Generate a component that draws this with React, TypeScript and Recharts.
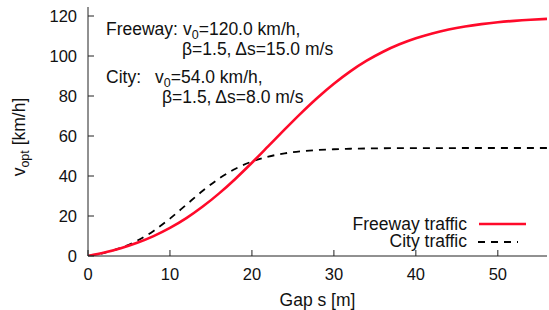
import React from "react";
import { LineChart, Line, XAxis, YAxis } from "recharts";

const gaps = [0, 2, 4, 6, 8, 10, 12, 14, 16, 18, 20, 22, 24, 26, 28, 30, 32, 34, 36, 38, 40, 42, 44, 46, 48, 50, 52, 54, 56];
const freeway = [0, 1.71, 3.88, 6.59, 9.95, 14.04, 18.94, 24.71, 31.31, 38.66, 46.61, 54.92, 63.29, 71.45, 79.13, 86.12, 92.31, 97.64, 102.13, 105.84, 108.86, 111.29, 113.22, 114.74, 115.93, 116.86, 117.58, 118.14, 118.57];
const city = [0, 1.61, 4.07, 7.65, 12.56, 18.71, 25.66, 32.6, 38.75, 43.66, 47.24, 49.7, 51.31, 52.34, 52.98, 53.38, 53.62, 53.77, 53.86, 53.92, 53.95, 53.97, 53.98, 53.99, 53.99, 54.0, 54.0, 54.0, 54.0];
const xTicks = [0, 10, 20, 30, 40, 50];
const yTicks = [0, 20, 40, 60, 80, 100, 120];
const seriesNames = ["Freeway traffic", "City traffic"];

const data = gaps.map((s, i) => ({ s, freeway: freeway[i], city: city[i] }));

const FONT = "'Liberation Sans', Arial, Helvetica, sans-serif";
const RED = "#ff0a2a";
const AXIS = "#222";

export default function App() {
  const tickStyle = { fontSize: 16.5, fill: "#111", fontFamily: FONT };
  return (
    <div style={{ position: "absolute", left: 0, top: 0, width: 549, height: 310, background: "#fff" }}>
      <LineChart width={549} height={310} data={data} margin={{ top: 7, right: 2, bottom: 0, left: 0 }}>
        <XAxis
          dataKey="s"
          type="number"
          domain={[0, 56]}
          ticks={xTicks}
          height={54}
          tickSize={-6}
          tickMargin={18}
          tick={tickStyle}
          stroke={AXIS}
          allowDataOverflow
        />
        <XAxis
          xAxisId="top"
          orientation="top"
          dataKey="s"
          type="number"
          domain={[0, 56]}
          ticks={xTicks}
          height={0}
          tickSize={-6}
          tick={false}
          stroke={AXIS}
          allowDataOverflow
        />
        <YAxis
          type="number"
          domain={[0, 124.5]}
          ticks={yTicks}
          width={88}
          tickSize={-6}
          tickMargin={17}
          tick={tickStyle}
          stroke={AXIS}
          allowDataOverflow
        />
        <YAxis
          yAxisId="right"
          orientation="right"
          type="number"
          domain={[0, 124.5]}
          ticks={yTicks}
          width={0}
          tickSize={-6}
          tick={false}
          stroke={AXIS}
          allowDataOverflow
        />
        <Line
          type="monotone"
          dataKey="city"
          name={seriesNames[1]}
          stroke="#000"
          strokeWidth={1.8}
          strokeDasharray="7 6"
          dot={false}
          isAnimationActive={false}
        />
        <Line
          type="monotone"
          dataKey="freeway"
          name={seriesNames[0]}
          stroke={RED}
          strokeWidth={2.6}
          dot={false}
          isAnimationActive={false}
        />
      </LineChart>
      <svg
        width={549}
        height={310}
        style={{ position: "absolute", left: 0, top: 0, pointerEvents: "none" }}
        fontFamily={FONT}
        fill="#111"
      >
        <text x={106} y={35} fontSize={17.5}>
          Freeway:
        </text>
        <text x={183} y={35} fontSize={17.5}>
          v<tspan dy={4} fontSize={12.5}>0</tspan>
          <tspan dy={-4}>=120.0 km/h,</tspan>
        </text>
        <text x={182} y={55} fontSize={17.5}>
          β=1.5, Δs=15.0 m/s
        </text>
        <text x={106} y={83} fontSize={17.5}>
          City:
        </text>
        <text x={155} y={83} fontSize={17.5}>
          v<tspan dy={4} fontSize={12.5}>0</tspan>
          <tspan dy={-4}>=54.0 km/h,</tspan>
        </text>
        <text x={162} y={103} fontSize={17.5}>
          β=1.5, Δs=8.0 m/s
        </text>

        <text x={467} y={230} fontSize={17.5} textAnchor="end">
          {seriesNames[0]}
        </text>
        <line x1={479} y1={224} x2={526} y2={224} stroke={RED} strokeWidth={2.6} />
        <text x={467} y={247} fontSize={17.5} textAnchor="end">
          {seriesNames[1]}
        </text>
        <line x1={478} y1={242} x2={518} y2={242} stroke="#000" strokeWidth={1.8} strokeDasharray="7 6" />

        <text x={317.5} y={306} fontSize={17.5} textAnchor="middle">
          Gap s [m]
        </text>
        <text x={25} y={137} fontSize={17.5} textAnchor="middle" transform="rotate(-90 25 137)">
          v<tspan dy={4} fontSize={12.5}>opt</tspan>
          <tspan dy={-4}> [km/h]</tspan>
        </text>
      </svg>
    </div>
  );
}
